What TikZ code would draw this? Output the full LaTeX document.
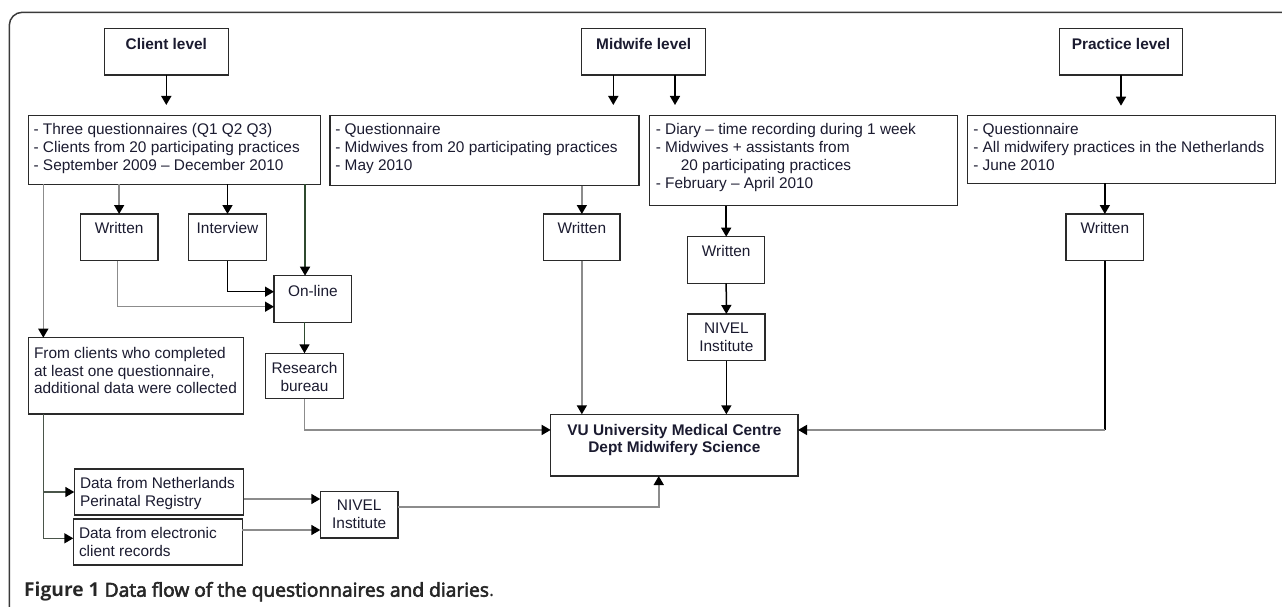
\documentclass[tikz,border=0pt]{standalone}
\usepackage{fontspec}
\setmainfont{Liberation Sans}
\newfontfamily\capfont{Open Sans}
\newfontfamily\capsemi[FakeBold=3]{Open Sans}
\usetikzlibrary{arrows.meta,calc}
\definecolor{txtc}{HTML}{1B1B30}
\definecolor{boxc}{HTML}{2A2A2A}
\definecolor{grayln}{HTML}{8C8C8C}
\definecolor{greenln}{HTML}{2F4A2F}
\definecolor{darkln}{HTML}{4A554A}
\definecolor{frmc}{HTML}{3A3A3A}
\newcommand{\tl}[1]{\begin{tabular}[t]{@{}l@{}}#1\end{tabular}}
\newcommand{\tc}[1]{\begin{tabular}[t]{@{}c@{}}#1\end{tabular}}
\begin{document}
\begin{tikzpicture}[x=1pt,y=-1pt,
  bx/.style={draw=boxc,line width=1.4pt,anchor=north west,inner sep=0pt,outer sep=0pt},
  lbl/.style={inner sep=0pt,outer sep=0pt,text=txtc,font=\fontsize{15.4pt}{17.7pt}\selectfont},
  lblb/.style={inner sep=0pt,outer sep=0pt,text=txtc,font=\fontsize{15.4pt}{17.7pt}\selectfont\bfseries},
  ln/.style={line width=1.5pt},
  tip/.style={-{Triangle[length=9pt,width=10pt,color=black]}}]
\useasboundingbox (0,0) rectangle (1282,607);
\fill[white] (0,0) rectangle (1282,607);
% frame
\draw[frmc,line width=1.5pt,rounded corners=13pt] (9.3,612) -- (9.3,12.3) -- (1290,12.3);

% level boxes
\node[bx,minimum width=124pt,minimum height=46.7pt] (cl) at (104.3,28.3) {};
\node[lblb,anchor=base] (clt) at ($(cl.north)+(0,21)$) {Client level};
\node[bx,minimum width=124pt,minimum height=46.7pt] (ml) at (581.7,28.3) {};
\node[lblb,anchor=base] (mlt) at ($(ml.north)+(0,21)$) {Midwife level};
\node[bx,minimum width=123.4pt,minimum height=46.7pt] (pl) at (1059.3,28.3) {};
\node[lblb,anchor=base] (plt) at ($(pl.north)+(0,21)$) {Practice level};

% info boxes
\node[bx,minimum width=292.4pt,minimum height=68.6pt] (ci) at (28.3,115.7) {};
\node[lbl,anchor=base west] (cit) at ($(ci.north west)+(5.3,19.3)$)
  {\tl{- Three questionnaires (Q1 Q2 Q3)\\- Clients from 20 participating practices\\- September 2009 – December 2010}};
\node[bx,minimum width=309pt,minimum height=70pt] (mq) at (330,115.7) {};
\node[lbl,anchor=base west] (mqt) at ($(mq.north west)+(5.3,19.3)$)
  {\tl{- Questionnaire\\- Midwives from 20 participating practices\\- May 2010}};
\node[bx,minimum width=308pt,minimum height=90pt] (dy) at (649.3,115.7) {};
\node[lbl,anchor=base west] (dyt) at ($(dy.north west)+(6.5,19.3)$)
  {\tl{- Diary – time recording during 1 week\\- Midwives + assistants from\\\hspace*{25pt}20 participating practices\\- February – April 2010}};
\node[bx,minimum width=307.6pt,minimum height=67.6pt] (pq) at (967.7,115.7) {};
\node[lbl,anchor=base west] (pqt) at ($(pq.north west)+(5.6,19.3)$)
  {\tl{- Questionnaire\\- All midwifery practices in the Netherlands\\- June 2010}};

% mode boxes
\node[bx,minimum width=77.7pt,minimum height=46.7pt] (cw) at (80.3,214) {};
\node[lbl,anchor=base] (cwt) at ($(cw.north)+(0,19.3)$) {Written};
\node[bx,minimum width=77.6pt,minimum height=46.7pt] (iv) at (188.7,214) {};
\node[lbl,anchor=base] (ivt) at ($(iv.north)+(0,19.3)$) {Interview};
\node[bx,minimum width=76.3pt,minimum height=46.7pt] (mw) at (543.7,214) {};
\node[lbl,anchor=base] (mwt) at ($(mw.north)+(0,19.3)$) {Written};
\node[bx,minimum width=77pt,minimum height=46.7pt] (dw) at (687.7,236.7) {};
\node[lbl,anchor=base] (dwt) at ($(dw.north)+(0,19.3)$) {Written};
\node[bx,minimum width=77.7pt,minimum height=46.7pt] (pw) at (1066,214) {};
\node[lbl,anchor=base] (pwt) at ($(pw.north)+(0,19.3)$) {Written};
\node[bx,minimum width=77.7pt,minimum height=46.6pt] (ol) at (274,275.7) {};
\node[lbl,anchor=base] (olt) at ($(ol.north)+(0,20.3)$) {On-line};
\node[bx,minimum width=77.6pt,minimum height=45.4pt] (rb) at (265.7,353.3) {};
\node[lbl,anchor=base] (rbt) at ($(rb.north)+(0,20)$) {\tc{Research\\bureau}};
\node[bx,minimum width=77.3pt,minimum height=46.7pt] (nm) at (687.7,314) {};
\node[lbl,anchor=base] (nmt) at ($(nm.north)+(0,19.3)$) {\tc{NIVEL\\Institute}};

% lower left
\node[bx,minimum width=215pt,minimum height=76.3pt] (fc) at (28.7,337.7) {};
\node[lbl,anchor=base west] (fct) at ($(fc.north west)+(5.3,20.6)$)
  {\tl{From clients who completed\\at least one questionnaire,\\additional data were collected}};
\node[bx,minimum width=169.4pt,minimum height=46pt] (dn) at (74.3,469) {};
\node[lbl,anchor=base west] (dnt) at ($(dn.north west)+(5.7,19.3)$)
  {\tl{Data from Netherlands\\Perinatal Registry}};
\node[bx,minimum width=169pt,minimum height=46pt] (de) at (73.3,519) {};
\node[lbl,anchor=base west] (det) at ($(de.north west)+(5.7,19.3)$)
  {\tl{Data from electronic\\client records}};
\node[bx,minimum width=77.7pt,minimum height=46.3pt] (nb) at (320.3,491.7) {};
\node[lbl,anchor=base] (nbt) at ($(nb.north)+(0,19)$) {\tc{NIVEL\\Institute}};

% VU
\node[bx,minimum width=247.3pt,minimum height=61.7pt] (vu) at (550.7,414.3) {};
\node[lblb,anchor=base] (vut) at ($(vu.north)+(0,20.7)$) {\tc{VU University Medical Centre\\Dept Midwifery Science}};

% caption
\node[anchor=base west,inner sep=0pt,text=black!85,font=\fontsize{19.2pt}{22pt}\selectfont] (cap) at (24,596.7)
  {\capfont\textbf{Figure 1} \capsemi Data flow of the questionnaires and diaries\capfont.};

% connectors: levels
\draw[ln,tip,shorten >=10.7pt] (cl.south) -- (cl.south |- ci.north);
\draw[ln,tip,shorten >=10.7pt] ([xshift=-30.4pt]ml.south) -- ([xshift=-30.4pt]ml.south |- mq.north);
\draw[ln,tip,shorten >=10.7pt] ([xshift=31.3pt]ml.south) -- ([xshift=31.3pt]ml.south |- dy.north);
\draw[ln,tip,shorten >=10pt] (pl.south) -- (pl.south |- pq.north);

% client flow
\draw[ln,grayln,tip] (cw.north |- ci.south) -- (cw.north);
\draw[ln,tip] (iv.north |- ci.south) -- (iv.north);
\draw[ln,greenln,tip] ([xshift=-7.8pt]ol.north |- ci.south) -- ([xshift=-7.8pt]ol.north);
\draw[ln,grayln,tip] ([xshift=14.6pt]fc.north west |- ci.south) -- ([xshift=14.6pt]fc.north west);
\draw[ln,grayln,tip] ([xshift=-1.9pt]cw.south) |- ([yshift=-7.7pt]ol.west);
\draw[ln,tip] (iv.south) |- ([yshift=7.3pt]ol.west);
\draw[ln,greenln,tip] (rb.north |- ol.south) -- (rb.north);
\draw[ln,grayln,tip] (rb.south) |- ([yshift=15.2pt]vu.west);

% midwife flow
\draw[ln,grayln,tip] (mw.north |- mq.south) -- (mw.north);
\draw[ln,grayln,tip] (mw.south) -- (mw.south |- vu.north);
\draw[ln,tip] (dw.north |- dy.south) -- (dw.north);
\draw[ln,tip] (dw.south) -- (nm.north);
\draw[ln,tip] (nm.south) -- (nm.south |- vu.north);

% practice flow
\draw[ln,tip] (pw.north |- pq.south) -- (pw.north);
\coordinate (ve) at ([yshift=15.2pt]vu.east);
\coordinate (pc) at (pw.south |- ve);
\draw[ln] (pw.south) -- (pc);
\draw[ln,grayln,tip] (pc) -- (ve);

% additional data
\coordinate (fx) at ([xshift=14.6pt]fc.south west);
\draw[ln,darkln,tip] (fx) |- (dn.west);
\draw[ln,darkln,tip] (fx) |- ([yshift=3.7pt]de.west);
\draw[ln,grayln,tip] ([yshift=-7pt]dn.east) -- ([yshift=-7pt]dn.east -| nb.west);
\draw[ln,grayln,tip] ([yshift=12pt]de.east) -- ([yshift=12pt]de.east -| nb.west);
\draw[ln,grayln,tip] ([yshift=8pt]nb.east) -| ([xshift=-15.6pt]vu.south);
\end{tikzpicture}
\end{document}
